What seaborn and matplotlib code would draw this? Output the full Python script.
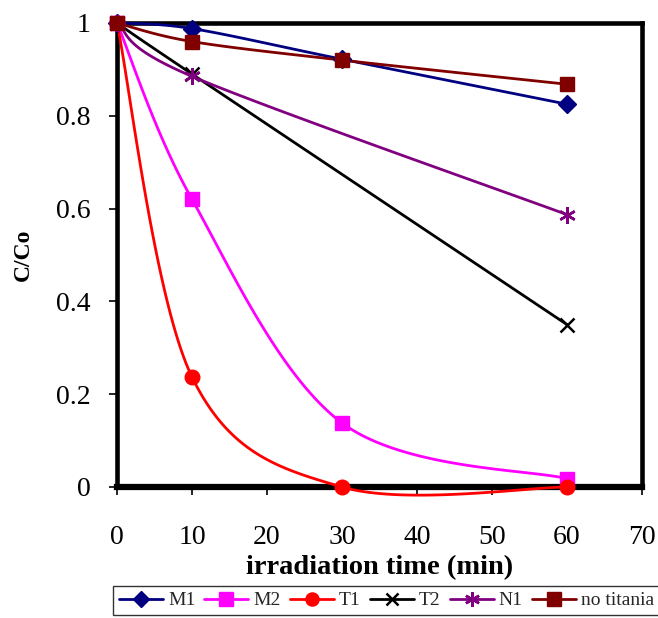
import numpy as np
import pandas as pd
import matplotlib
matplotlib.use("Agg")
import matplotlib.pyplot as plt
from matplotlib.lines import Line2D
import seaborn as sns

# Photocatalytic degradation: normalised concentration vs irradiation time
time_m1 = [0, 10, 30, 60]
m1 = [1.0, 0.988, 0.922, 0.825]
time_m2 = [0, 10, 30, 60]
m2 = [1.0, 0.62, 0.138, 0.018]
time_t1 = [0, 10, 30, 60]
t1 = [1.0, 0.237, 0.0, 0.0]
time_t2 = [0, 10, 60]
t2 = [1.0, 0.89, 0.35]
time_n1 = [0, 10, 60]
n1 = [1.0, 0.885, 0.587]
time_nt = [0, 10, 30, 60]
no_titania = [1.0, 0.96, 0.92, 0.868]

labels = ["M1", "M2", "T1", "T2", "N1", "no titania"]
colors = ["#000080", "#FF00FF", "#FF0000", "#000000", "#800080", "#800000"]
markers = ["D", "s", "o", "x", (6, 2, 0), "s"]
msizes = [9.5, 10.5, 10.5, 10, 12, 10.5]
series = [(time_m1, m1), (time_m2, m2), (time_t1, t1),
          (time_t2, t2), (time_n1, n1), (time_nt, no_titania)]


def smooth(x, y, n=40):
    """Cardinal Bezier smoothing through the data points (spreadsheet-style smoothed line)."""
    x = np.asarray(x, float)
    y = np.asarray(y, float)
    px, py = [], []
    k = len(x)
    for i in range(k - 1):
        x0, y0 = (x[i - 1], y[i - 1]) if i > 0 else (x[i], y[i])
        x3, y3 = (x[i + 2], y[i + 2]) if i + 2 < k else (x[i + 1], y[i + 1])
        x1, y1, x2, y2 = x[i], y[i], x[i + 1], y[i + 1]
        c1x, c1y = x1 + (x2 - x0) / 6, y1 + (y2 - y0) / 6
        c2x, c2y = x2 - (x3 - x1) / 6, y2 - (y3 - y1) / 6
        t = np.linspace(0, 1, n)
        bx = (1 - t) ** 3 * x1 + 3 * (1 - t) ** 2 * t * c1x + 3 * (1 - t) * t ** 2 * c2x + t ** 3 * x2
        by = (1 - t) ** 3 * y1 + 3 * (1 - t) ** 2 * t * c1y + 3 * (1 - t) * t ** 2 * c2y + t ** 3 * y2
        px.extend(bx)
        py.extend(by)
    return np.array(px), np.array(py)


sns.set_theme(style="white")
plt.rcParams["font.family"] = ["Liberation Serif", "DejaVu Serif"]

fig = plt.figure(figsize=(6.58, 6.18), dpi=100)
ax = fig.add_axes([117 / 658, 1 - 487 / 618, (642 - 117) / 658, (487 - 23) / 618])

handles = []
for (tx, ty), lab, col, mk, ms in zip(series, labels, colors, markers, msizes):
    sx, sy = smooth(tx, ty)
    curve = pd.DataFrame({"t": sx, "c": sy})
    sns.lineplot(data=curve, x="t", y="c", sort=False, color=col, linewidth=2.0,
                 ax=ax, estimator=None, zorder=3, clip_on=False)
    pts = pd.DataFrame({"t": tx, "c": ty})
    mew = 1.8 if mk in ("x",) or isinstance(mk, tuple) else 1
    ax.plot(pts["t"], pts["c"], linestyle="none", marker=mk, markersize=ms,
            color=col, markeredgecolor=col, markeredgewidth=mew, zorder=4, clip_on=False)
    handles.append(Line2D([], [], color=col, linewidth=2.0, marker=mk,
                          markersize=ms * 0.9, markeredgewidth=mew, label=lab))

ax.set_xlim(0, 70)
ax.set_ylim(0, 1)
ax.set_xticks(range(0, 71, 10))
ax.set_yticks([0, 0.2, 0.4, 0.6, 0.8, 1.0])
ax.set_yticklabels(["0", "0.2", "0.4", "0.6", "0.8", "1"])
ax.tick_params(axis="both", direction="out", length=6, width=1.2, color="black",
               labelsize=20, labelcolor="black", bottom=True, left=True)
ax.tick_params(axis="x", pad=21)
ax.tick_params(axis="y", pad=13)
for name, sp in ax.spines.items():
    sp.set_visible(True)
    sp.set_color("black")
    sp.set_linewidth(4.5 if name == "bottom" else 3.3)
ax.grid(False)
ax.set_xlabel("irradiation time (min)", fontsize=20.5, fontweight="bold", labelpad=4, color="black")
ax.set_ylabel("C/Co", fontsize=17, fontweight="bold", labelpad=16, color="black")

leg = fig.legend(handles=handles, loc="upper left", bbox_to_anchor=(113 / 658, 1 - 586 / 618),
                 ncol=6, frameon=True, fontsize=14, handlelength=2.27, handletextpad=0.26,
                 columnspacing=0.46, borderpad=0.3, fancybox=False, borderaxespad=0)
leg.get_frame().set_edgecolor("black")
leg.get_frame().set_linewidth(1.0)

fig.savefig("out.png", dpi=100)
